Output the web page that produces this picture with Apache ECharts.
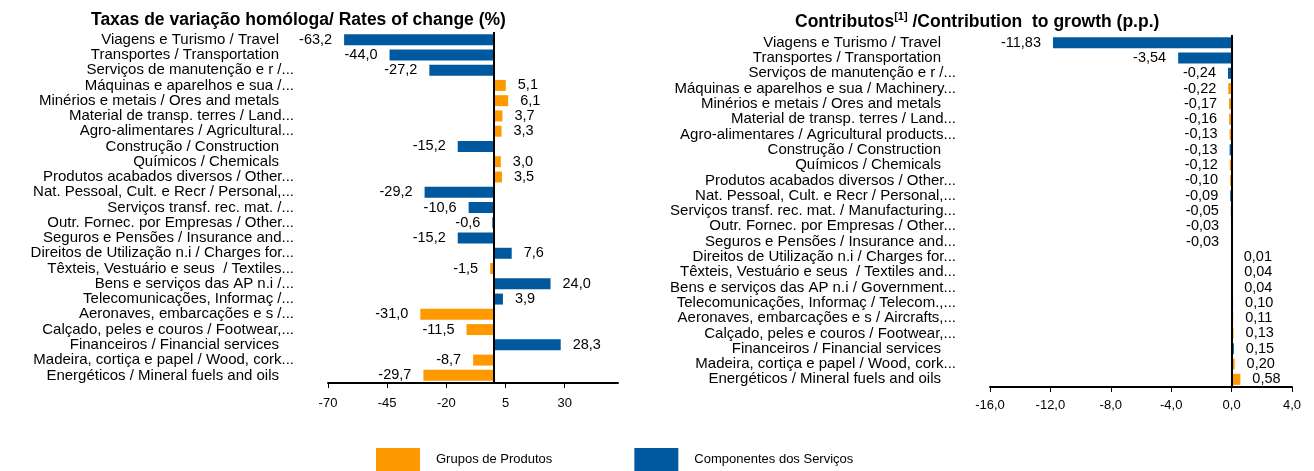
<!DOCTYPE html>
<html>
<head>
<meta charset="utf-8">
<script src="https://cdn.jsdelivr.net/npm/echarts@6/dist/echarts.min.js"></script>
<style>
  html, body { margin: 0; padding: 0; background: #fff; }
  #chart { width: 1314px; height: 471px; }
</style>
</head>
<body>
<div id="chart"></div>
<script>
// categorias (de cima para baixo)
const leftLabels = [
  'Viagens e Turismo / Travel',
  'Transportes / Transportation',
  'Serviços de manutenção e r /...',
  'Máquinas e aparelhos e sua /...',
  'Minérios e metais / Ores and metals',
  'Material de transp. terres / Land...',
  'Agro-alimentares / Agricultural...',
  'Construção / Construction',
  'Químicos / Chemicals',
  'Produtos acabados diversos / Other...',
  'Nat. Pessoal, Cult. e Recr / Personal,...',
  'Serviços transf. rec. mat. /...',
  'Outr. Fornec. por Empresas / Other...',
  'Seguros e Pensões / Insurance and...',
  'Direitos de Utilização n.i / Charges for...',
  'Têxteis, Vestuário e seus  / Textiles...',
  'Bens e serviços das AP n.i /...',
  'Telecomunicações, Informaç /...',
  'Aeronaves, embarcações e s /...',
  'Calçado, peles e couros / Footwear,...',
  'Financeiros / Financial services',
  'Madeira, cortiça e papel / Wood, cork...',
  'Energéticos / Mineral fuels and oils'
]
const rightLabels = [
  'Viagens e Turismo / Travel',
  'Transportes / Transportation',
  'Serviços de manutenção e r /...',
  'Máquinas e aparelhos e sua / Machinery...',
  'Minérios e metais / Ores and metals',
  'Material de transp. terres / Land...',
  'Agro-alimentares / Agricultural products...',
  'Construção / Construction',
  'Químicos / Chemicals',
  'Produtos acabados diversos / Other...',
  'Nat. Pessoal, Cult. e Recr / Personal,...',
  'Serviços transf. rec. mat. / Manufacturing...',
  'Outr. Fornec. por Empresas / Other...',
  'Seguros e Pensões / Insurance and...',
  'Direitos de Utilização n.i / Charges for...',
  'Têxteis, Vestuário e seus  / Textiles and...',
  'Bens e serviços das AP n.i / Government...',
  'Telecomunicações, Informaç / Telecom.,...',
  'Aeronaves, embarcações e s / Aircrafts,...',
  'Calçado, peles e couros / Footwear,...',
  'Financeiros / Financial services',
  'Madeira, cortiça e papel / Wood, cork...',
  'Energéticos / Mineral fuels and oils'
]
// P = Grupos de Produtos, S = Componentes dos Serviços
const groups = ['S','S','S','P','P','P','P','S','P','P','S','S','S','S','S','P','S','S','P','P','S','P','P']
const rates = [-63.2,-44.0,-27.2,5.1,6.1,3.7,3.3,-15.2,3.0,3.5,-29.2,-10.6,-0.6,-15.2,7.6,-1.5,24.0,3.9,-31.0,-11.5,28.3,-8.7,-29.7]
const contribs = [-11.83,-3.54,-0.24,-0.22,-0.17,-0.16,-0.13,-0.13,-0.12,-0.10,-0.09,-0.05,-0.03,-0.03,0.01,0.04,0.04,0.10,0.11,0.13,0.15,0.20,0.58]
const seriesNames = {P: 'Grupos de Produtos', S: 'Componentes dos Serviços'}
const seriesColors = {P: '#FF9900', S: '#00599F'}

const FONT = 'Liberation Sans, Arial, sans-serif'
const chart = echarts.init(document.getElementById('chart'))

const fmt = (v, d) => v.toFixed(d).replace('.', ',')

const makeSeries = (kind, values, idx, decimals) => {
  const s = {
    name: seriesNames[kind],
    type: 'bar',
    xAxisIndex: idx,
    yAxisIndex: idx,
    barWidth: 11,
    barGap: '-100%',
    itemStyle: {color: seriesColors[kind]},
    label: {
      show: true,
      distance: 12,
      color: '#000',
      fontFamily: FONT,
      fontSize: 14.5,
      formatter: p => fmt(p.value, decimals)
    },
    data: values.map((v, i) => groups[i] === kind
      ? {value: v, label: {position: v < 0 ? 'left' : 'right'}}
      : '-')
  }
  if (kind === 'S') {
    // linha do zero
    s.markLine = {
      silent: true,
      symbol: ['none', 'none'],
      label: {show: false},
      lineStyle: {color: '#000', type: 'solid', width: 2},
      data: [{xAxis: 0}]
    }
  }
  return s
}

const catAxis = (labels, idx) => ({
  type: 'category',
  gridIndex: idx,
  inverse: true,
  data: labels,
  axisLine: {show: false},
  axisTick: {show: false},
  axisLabel: {
    interval: 0,
    margin: 34,
    color: '#000',
    fontFamily: FONT,
    fontSize: 15,
    // as legendas completas (sem "...") ficam um pouco recuadas, como no Excel
    formatter: v => v.endsWith('...') ? v : v + '{pad|}',
    rich: {pad: {width: 15}}
  }
})

const option = {
  animation: false,
  title: [
    {
      text: 'Taxas de variação homóloga/ Rates of change (%)',
      left: 86,
      top: 6,
      textStyle: {fontFamily: FONT, fontSize: 17.5, fontWeight: 'bold', color: '#000'}
    },
    {
      text: '{b|Contributos}{sup|[1]}{b| /Contribution  to growth (p.p.)}',
      left: 790,
      top: 6,
      textStyle: {
        rich: {
          b: {fontFamily: FONT, fontSize: 17.5, fontWeight: 'bold', color: '#000', lineHeight: 22},
          sup: {fontFamily: FONT, fontSize: 11, fontWeight: 'bold', color: '#000', verticalAlign: 'top', lineHeight: 22}
        }
      }
    }
  ],
  legend: {
    left: 371,
    top: 443,
    itemWidth: 44,
    itemHeight: 23,
    itemGap: 82,
    icon: 'rect',
    textStyle: {fontFamily: FONT, fontSize: 13, color: '#000', padding: [0, 0, 0, 11]},
    data: [seriesNames.P, seriesNames.S]
  },
  grid: [
    {left: 328, width: 290, top: 32, bottom: 88},
    {left: 990, right: 22, top: 35, bottom: 84}
  ],
  xAxis: [
    {
      type: 'value',
      gridIndex: 0,
      min: -70,
      max: 52.5,
      interval: 25,
      splitLine: {show: false},
      axisLine: {show: true, lineStyle: {color: '#000', width: 2}},
      axisTick: {show: true, lineStyle: {color: '#000'}},
      axisLabel: {showMaxLabel: false, margin: 14, color: '#000', fontFamily: FONT, fontSize: 13}
    },
    {
      type: 'value',
      gridIndex: 1,
      min: -16,
      max: 4,
      interval: 4,
      splitLine: {show: false},
      axisLine: {show: true, lineStyle: {color: '#000', width: 2}},
      axisTick: {show: true, lineStyle: {color: '#000'}},
      axisLabel: {margin: 12, color: '#000', fontFamily: FONT, fontSize: 13, formatter: v => fmt(v, 1)}
    }
  ],
  yAxis: [catAxis(leftLabels, 0), catAxis(rightLabels, 1)],
  series: [
    makeSeries('P', rates, 0, 1),
    makeSeries('S', rates, 0, 1),
    makeSeries('P', contribs, 1, 2),
    makeSeries('S', contribs, 1, 2)
  ]
}

chart.setOption(option)
</script>
</body>
</html>
